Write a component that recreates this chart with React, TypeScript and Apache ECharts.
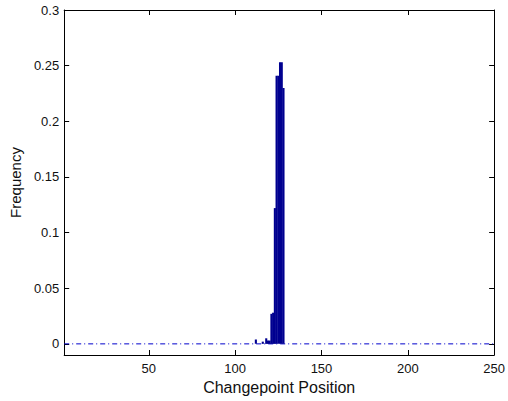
import React, { useEffect, useRef } from "react";
import * as echarts from "echarts";

const positions = [112, 116, 118, 119, 120, 121, 122, 123, 124, 125, 126, 127, 128];
const frequencies = [0.004, 0.002, 0.005, 0.003, 0.003, 0.027, 0.028, 0.122, 0.241, 0.241, 0.253, 0.253, 0.23];
const xTicks = [50, 100, 150, 200, 250];
const yTicks = [0, 0.05, 0.1, 0.15, 0.2, 0.25, 0.3];
const baseline = [[1, 0], [250, 0]];

const FONT = "'Liberation Sans', Arial, sans-serif";

export default function App() {
  const ref = useRef<HTMLDivElement>(null);
  useEffect(() => {
    if (!ref.current) return;
    const chart = echarts.init(ref.current, null, { renderer: "svg" });
    const axisLine = { show: true, onZero: false, lineStyle: { color: "#000", width: 1 } };
    chart.setOption({
      animation: false,
      backgroundColor: "#fff",
      grid: { left: 62, right: 7, top: 10, bottom: 46, containLabel: false },
      xAxis: [
        {
          type: "value",
          min: 1,
          max: 250,
          position: "bottom",
          axisLine,
          axisTick: { show: true, inside: true, length: 5, customValues: xTicks, lineStyle: { color: "#000" } },
          axisLabel: { show: true, customValues: xTicks, margin: 7, fontSize: 13, color: "#111", fontFamily: FONT },
          splitLine: { show: false },
          name: "Changepoint Position",
          nameLocation: "middle",
          nameGap: 21,
          nameTextStyle: { fontSize: 16, color: "#111", fontFamily: FONT },
        },
        {
          type: "value",
          min: 1,
          max: 250,
          position: "top",
          axisLine,
          axisTick: { show: true, inside: true, length: 5, customValues: xTicks, lineStyle: { color: "#000" } },
          axisLabel: { show: false },
          splitLine: { show: false },
        },
      ],
      yAxis: [
        {
          type: "value",
          min: -0.01,
          max: 0.3,
          position: "left",
          axisLine,
          axisTick: { show: true, inside: true, length: 5, customValues: yTicks, lineStyle: { color: "#000" } },
          axisLabel: {
            show: true,
            customValues: yTicks,
            margin: 5,
            fontSize: 13,
            color: "#111",
            fontFamily: FONT,
            formatter: (v: number) => String(v),
          },
          splitLine: { show: false },
          name: "Frequency",
          nameLocation: "middle",
          nameGap: 31,
          nameTextStyle: { fontSize: 15, color: "#111", fontFamily: FONT },
        },
        {
          type: "value",
          min: -0.01,
          max: 0.3,
          position: "right",
          axisLine,
          axisTick: { show: true, inside: true, length: 5, customValues: yTicks, lineStyle: { color: "#000" } },
          axisLabel: { show: false },
          splitLine: { show: false },
        },
      ],
      series: [
        {
          type: "line",
          xAxisIndex: 0,
          yAxisIndex: 0,
          data: baseline,
          symbol: "none",
          lineStyle: { color: "#0000CC", width: 1, type: [5, 3, 1, 3] },
          z: 1,
          silent: true,
        },
        {
          type: "bar",
          xAxisIndex: 0,
          yAxisIndex: 0,
          data: positions.map((p, i) => [p, frequencies[i]]),
          barWidth: 2.1,
          itemStyle: { color: "#000090" },
          z: 2,
        },
      ],
    });
    return () => chart.dispose();
  }, []);
  return <div ref={ref} style={{ width: 508, height: 401, position: "absolute", left: 0, top: 0 }} />;
}
